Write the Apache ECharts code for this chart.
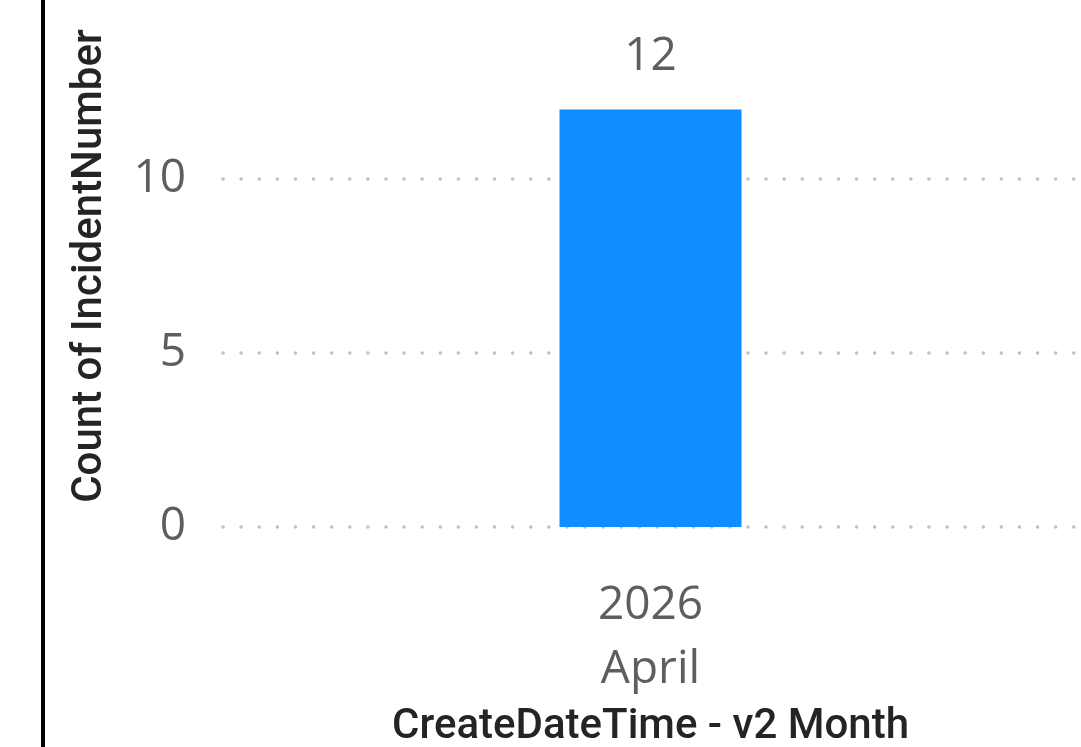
<!DOCTYPE html>
<html><head><meta charset="utf-8">
<script src="https://cdn.jsdelivr.net/npm/echarts@6/dist/echarts.min.js"></script>
<style>html,body{margin:0;padding:0;background:#fff}#c{width:1081px;height:747px}</style>
</head><body><div id="c"></div>
<script>
var categories = ['2026\nApril'];
var incidentCounts = [12];
var yTicks = [0, 5, 10];

var chart = echarts.init(document.getElementById('c'), null, {renderer:'canvas'});
chart.setOption({
  animation: false,
  backgroundColor: '#ffffff',
  grid: {left: 223, right: 3, top: 5, bottom: 220, containLabel: false, outerBoundsMode: 'none'},
  graphic: [{type:'rect', left: 41, top: 0, shape:{width:4, height:747}, style:{fill:'#000'}}],
  xAxis: {
    type: 'category', data: categories,
    axisLine: {show:false}, axisTick: {show:false},
    axisLabel: {color:'#605E5C', fontFamily:'Open Sans', fontSize:46, lineHeight:64, margin:47},
    name: 'CreateDateTime - v2 Month', nameLocation: 'middle', nameGap: 179,
    nameTextStyle: {color:'#252423', fontFamily:'Roboto', fontWeight:500, fontSize:42}
  },
  yAxis: {
    type: 'value', min: 0, max: 15, interval: 5,
    axisLine: {show:false}, axisTick: {show:false},
    axisLabel: {color:'#605E5C', fontFamily:'Open Sans', fontSize:46, margin:37, showMaxLabel:false},
    splitLine: {show:true, showMaxLine:false, lineStyle:{color:'#C3C1BF', width:3.5, type:[0.1,18], cap:'round'}},
    name: 'Count of IncidentNumber', nameLocation: 'middle', nameGap: 112,
    nameTextStyle: {color:'#252423', fontFamily:'Roboto', fontWeight:500, fontSize:42}
  },
  series: [{
    type: 'bar', data: incidentCounts, barWidth: 182,
    itemStyle: {color:'#118DFF'},
    label: {show:true, position:'top', distance:30, color:'#605E5C', fontFamily:'Open Sans', fontSize:46}
  }]
});
</script></body></html>
